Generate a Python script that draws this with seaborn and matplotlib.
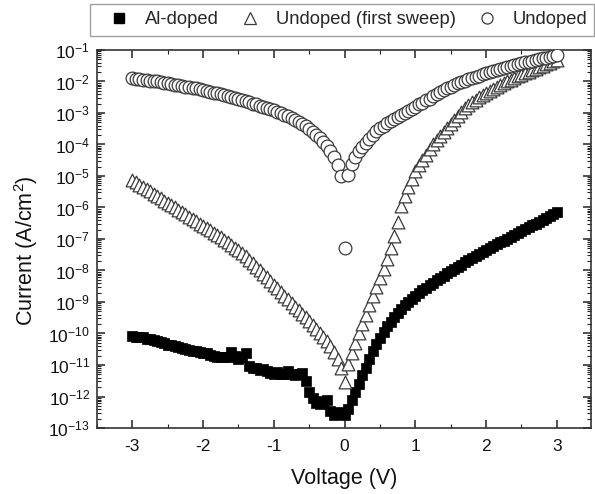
import numpy as np
import pandas as pd
import matplotlib
matplotlib.use("Agg")
import matplotlib.pyplot as plt
from matplotlib.lines import Line2D
from matplotlib.ticker import LogLocator, MultipleLocator, NullFormatter
import seaborn as sns

# ---------------- data (log10 of current density, A/cm^2) ----------------
voltage = [round(-3.0 + 0.05 * i, 2) for i in range(121)]

log_al_doped = [
    -10.07, -10.10, -10.12, -10.12, -10.16, -10.18, -10.20, -10.24, -10.26, -10.30,
    -10.35, -10.36, -10.40, -10.42, -10.46, -10.50, -10.52, -10.55, -10.56, -10.60,
    -10.62, -10.62, -10.68, -10.72, -10.74, -10.76, -10.74, -10.76, -10.58, -10.72,
    -10.80, -10.74, -10.62, -11.04, -11.10, -11.08, -11.15, -11.12, -11.20, -11.25,
    -11.28, -11.22, -11.30, -11.28, -11.20, -11.28, -11.32, -11.30, -11.24, -11.50,
    -11.85, -12.05, -12.20, -12.25, -12.15, -12.10, -12.45, -12.60, -12.50, -12.55,
    -12.60,
    -12.40, -12.10, -11.85, -11.60, -11.33, -11.08, -10.80, -10.55, -10.33, -10.13,
    -9.94, -9.77, -9.62, -9.48, -9.34, -9.21, -9.10, -9.00, -8.90, -8.81,
    -8.72, -8.63, -8.55, -8.47, -8.39, -8.31, -8.23, -8.16, -8.09, -8.02,
    -7.95, -7.88, -7.81, -7.74, -7.67, -7.61, -7.54, -7.48, -7.41, -7.35,
    -7.29, -7.23, -7.17, -7.11, -7.05, -6.99, -6.93, -6.87, -6.81, -6.75,
    -6.69, -6.63, -6.57, -6.51, -6.45, -6.39, -6.33, -6.27, -6.21, -6.15,
]

log_undoped_first = [
    -5.12, -5.19, -5.27, -5.34, -5.41, -5.48, -5.56, -5.63, -5.70, -5.78,
    -5.85, -5.92, -5.99, -6.07, -6.14, -6.21, -6.29, -6.36, -6.43, -6.51,
    -6.58, -6.65, -6.72, -6.80, -6.87, -6.95, -7.03, -7.11, -7.19, -7.27,
    -7.35, -7.45, -7.55, -7.66, -7.77, -7.88, -7.99, -8.10, -8.22, -8.34,
    -8.46, -8.57, -8.69, -8.80, -8.92, -9.03, -9.15, -9.26, -9.38, -9.49,
    -9.61, -9.73, -9.86, -9.98, -10.11, -10.24, -10.40, -10.58, -10.80, -11.10,
    -11.55,
    -10.98, -10.62, -10.30, -10.00, -9.70, -9.40, -9.10, -8.80, -8.52, -8.24,
    -7.95, -7.62, -7.28, -6.90, -6.45, -5.95, -5.62, -5.35, -5.08, -4.84,
    -4.66, -4.49, -4.32, -4.15, -4.00, -3.86, -3.72, -3.59, -3.47, -3.36,
    -3.22, -3.09, -2.96, -2.84, -2.75, -2.66, -2.58, -2.50, -2.42, -2.35,
    -2.29, -2.23, -2.17, -2.11, -2.05, -2.00, -1.95, -1.89, -1.84, -1.79,
    -1.74, -1.69, -1.64, -1.59, -1.55, -1.50, -1.45, -1.40, -1.36, -1.31,
]

log_undoped = [
    -1.89, -1.91, -1.92, -1.94, -1.95, -1.97, -1.99, -2.00, -2.02, -2.04,
    -2.06, -2.08, -2.10, -2.12, -2.14, -2.16, -2.18, -2.20, -2.22, -2.24,
    -2.27, -2.30, -2.32, -2.35, -2.38, -2.41, -2.44, -2.47, -2.50, -2.53,
    -2.56, -2.59, -2.63, -2.66, -2.70, -2.73, -2.77, -2.80, -2.84, -2.88,
    -2.92, -2.96, -3.01, -3.06, -3.11, -3.16, -3.22, -3.28, -3.35, -3.42,
    -3.50, -3.59, -3.69, -3.80, -3.92, -4.05, -4.20, -4.40, -4.64, -5.00,
    -7.30,
    -4.97, -4.62, -4.40, -4.22, -4.07, -3.94, -3.82, -3.70, -3.58, -3.47,
    -3.40, -3.33, -3.26, -3.19, -3.12, -3.06, -2.99, -2.93, -2.86, -2.80,
    -2.73, -2.67, -2.60, -2.54, -2.47, -2.41, -2.34, -2.27, -2.21, -2.16,
    -2.11, -2.06, -2.01, -1.97, -1.93, -1.89, -1.85, -1.81, -1.77, -1.73,
    -1.70, -1.66, -1.63, -1.60, -1.57, -1.54, -1.51, -1.48, -1.45, -1.42,
    -1.39, -1.37, -1.34, -1.32, -1.29, -1.27, -1.24, -1.22, -1.19, -1.16,
]

series_names = ["Al-doped", "Undoped (first sweep)", "Undoped"]
x_ticks = [-3, -2, -1, 0, 1, 2, 3]

# ---------------- style ----------------
sns.set_theme(style="ticks")
plt.rcParams["font.family"] = ["Liberation Sans", "DejaVu Sans"]
plt.rcParams["mathtext.fontset"] = "custom"
plt.rcParams["mathtext.rm"] = "Liberation Sans"
plt.rcParams["mathtext.it"] = "Liberation Sans:italic"
plt.rcParams["mathtext.bf"] = "Liberation Sans:bold"

df_al = pd.DataFrame({"V": voltage, "I": np.power(10.0, log_al_doped)})
df_first = pd.DataFrame({"V": voltage, "I": np.power(10.0, log_undoped_first)})
df_und = pd.DataFrame({"V": voltage, "I": np.power(10.0, log_undoped)})

fig = plt.figure(figsize=(5.95, 4.94), dpi=100)
ax = fig.add_axes([0.163, 0.1336, 0.830, 0.7652])

edge = "#3a3a3a"
sns.scatterplot(data=df_al, x="V", y="I", ax=ax, marker="s", s=62,
                color="black", edgecolor="black", linewidth=0.5, zorder=3)
sns.scatterplot(data=df_first, x="V", y="I", ax=ax, marker="^", s=84,
                facecolor="white", edgecolor=edge, linewidth=0.9, zorder=4)
sns.scatterplot(data=df_und, x="V", y="I", ax=ax, marker="o", s=84,
                facecolor="white", edgecolor=edge, linewidth=0.9, zorder=5)

ax.set_yscale("log")
ax.set_xlim(-3.5, 3.48)
ax.set_ylim(1e-13, 1e-1)
ax.set_xticks(x_ticks)
ax.set_xticklabels([str(t) for t in x_ticks])
ax.xaxis.set_minor_locator(MultipleLocator(0.5))
ax.yaxis.set_major_locator(LogLocator(base=10, numticks=20))
ax.yaxis.set_minor_locator(LogLocator(base=10, subs=np.arange(2, 10), numticks=200))
ax.yaxis.set_minor_formatter(NullFormatter())

ax.tick_params(which="both", direction="in", top=True, right=True, colors="#222222",
               labelcolor="#111111")
ax.tick_params(which="major", length=6, width=1.1, labelsize=12.5, pad=5)
ax.tick_params(which="minor", length=3, width=0.8)
ax.tick_params(axis="x", which="major", pad=8)
for sp in ax.spines.values():
    sp.set_color("#333333")
    sp.set_linewidth(1.2)

ax.set_xlabel("Voltage (V)", fontsize=15.5, color="#111111", labelpad=10)
ax.set_ylabel("Current (A/cm$^2$)", fontsize=15.5, color="#111111", labelpad=4)
ax.yaxis.set_label_coords(-0.115, 0.47)

handles = [
    Line2D([], [], linestyle="none", marker="s", markersize=7, color="black"),
    Line2D([], [], linestyle="none", marker="^", markersize=9,
           markerfacecolor="white", markeredgecolor=edge, markeredgewidth=0.9),
    Line2D([], [], linestyle="none", marker="o", markersize=8,
           markerfacecolor="white", markeredgecolor=edge, markeredgewidth=0.9),
]
leg = fig.legend(handles, series_names, loc="upper left",
                 bbox_to_anchor=(0.151, 0.992), borderaxespad=0.0, ncol=3,
                 frameon=True, fontsize=13.2, handletextpad=0.2,
                 columnspacing=0.5, borderpad=0.4, handlelength=2.4,
                 fancybox=False)
leg.get_frame().set_edgecolor("#888888")
leg.get_frame().set_linewidth(1.0)

fig.savefig("out.png", dpi=100)
